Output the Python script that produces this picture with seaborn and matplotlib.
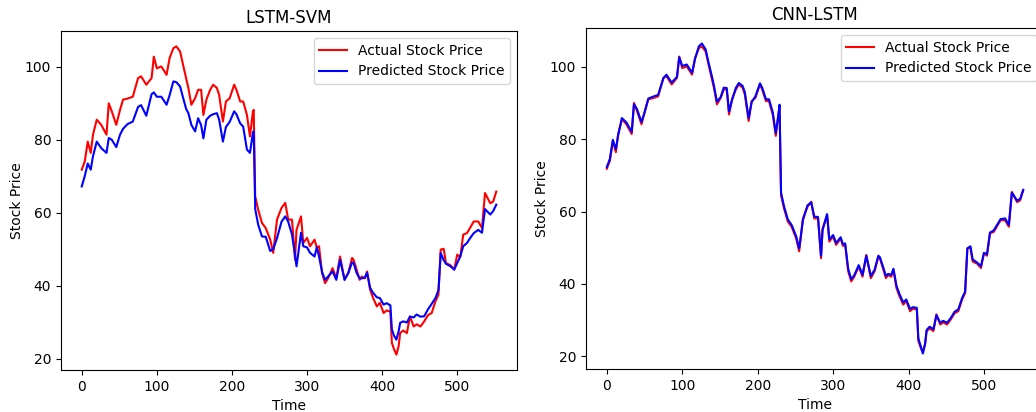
import matplotlib
matplotlib.use("Agg")
import matplotlib.pyplot as plt
import seaborn as sns

# time index and prices
time_steps = [0, 4, 8, 12, 15, 20, 26, 33, 36, 40, 46, 51, 55, 61, 68, 75, 79, 86, 93, 96,
              100, 106, 113, 117, 122, 126, 131, 135, 139, 142, 146, 151, 155, 159, 162, 166,
              171, 175, 180, 183, 188, 192, 197, 203, 206, 211, 215, 220, 224, 228, 229, 231,
              235, 240, 245, 251, 255, 260, 266, 271, 275, 280, 284, 286, 292, 295, 300, 304,
              310, 313, 316, 320, 324, 328, 334, 339, 344, 350, 355, 360, 362, 366, 370, 373,
              377, 380, 384, 388, 393, 397, 402, 406, 411, 413, 416, 419, 422, 424, 428, 433,
              437, 442, 446, 451, 456, 461, 466, 471, 475, 478, 482, 485, 491, 496, 500, 504,
              508, 513, 517, 522, 528, 533, 537, 544, 548, 552]

actual = [71.8, 74.0, 79.5, 76.4, 81.4, 85.5, 84.1, 81.4, 90.0, 87.8, 84.1, 88.2, 91.0, 91.3,
          91.8, 96.9, 97.4, 95.1, 96.9, 102.8, 99.6, 100.1, 97.8, 102.4, 105.1, 105.6, 104.2,
          100.5, 96.9, 94.2, 89.6, 91.4, 93.7, 93.7, 86.8, 91.0, 93.7, 95.1, 94.2, 92.3, 85.0,
          90.5, 91.4, 95.1, 93.7, 90.5, 90.5, 86.8, 80.9, 87.8, 88.2, 64.5, 60.8, 57.2, 55.8,
          52.6, 49.0, 58.1, 61.3, 62.7, 58.1, 58.1, 47.1, 55.3, 59.0, 51.7, 53.1, 50.8, 52.6,
          50.5, 50.8, 43.5, 40.7, 42.0, 44.8, 42.0, 48.0, 41.6, 43.5, 47.6, 47.1, 44.4, 41.6,
          42.5, 42.0, 43.9, 38.9, 36.6, 34.3, 35.3, 32.5, 33.2, 32.9, 24.3, 22.5, 21.1, 23.4,
          27.0, 27.7, 27.0, 31.6, 28.8, 29.4, 28.8, 30.2, 31.9, 32.5, 35.7, 37.5, 49.9, 50.1,
          46.2, 45.6, 44.4, 48.5, 47.8, 54.0, 54.4, 55.8, 57.6, 57.6, 55.8, 65.4, 62.6, 63.1,
          65.8]

pred_lstm_svm = [67.2, 70.0, 73.5, 71.8, 75.5, 79.5, 77.7, 76.4, 80.5, 80.0, 78.0, 81.4, 83.0,
                 84.3, 85.0, 89.0, 89.5, 86.6, 92.5, 93.0, 91.8, 91.8, 89.6, 92.2, 96.0, 95.8,
                 94.6, 91.5, 88.5, 87.3, 84.1, 82.3, 85.9, 84.0, 80.4, 85.5, 86.6, 87.0, 87.3,
                 85.5, 79.5, 83.5, 84.9, 87.8, 87.0, 84.5, 83.6, 77.3, 76.4, 82.0, 82.3, 61.0,
                 56.7, 53.5, 53.4, 49.5, 50.0, 53.0, 57.5, 59.0, 57.5, 54.0, 48.5, 45.3, 54.5,
                 50.8, 50.5, 49.0, 48.0, 50.5, 48.0, 43.8, 41.6, 42.5, 43.9, 41.6, 47.1, 41.6,
                 43.5, 46.4, 46.2, 43.5, 42.0, 42.0, 42.2, 43.5, 39.4, 38.0, 36.8, 36.6, 34.8,
                 35.2, 34.6, 28.0, 26.2, 25.2, 27.5, 29.8, 30.2, 29.9, 31.5, 31.3, 32.1, 31.5,
                 31.6, 33.5, 35.0, 36.6, 38.8, 48.9, 47.0, 46.0, 45.3, 44.4, 46.2, 48.0, 50.8,
                 51.7, 53.0, 54.4, 55.3, 54.5, 61.0, 59.5, 60.5, 62.2]

pred_cnn_lstm = [72.3, 74.5, 79.8, 77.2, 81.0, 85.8, 84.6, 82.0, 89.6, 88.3, 84.7, 88.0, 91.2,
                 91.7, 92.2, 96.8, 97.8, 95.6, 97.2, 102.6, 100.2, 100.6, 98.3, 102.2, 105.6,
                 106.4, 104.8, 101.0, 97.6, 94.8, 90.3, 91.6, 94.2, 94.1, 87.6, 90.8, 94.1, 95.5,
                 94.7, 92.9, 85.8, 90.2, 91.8, 95.4, 94.2, 91.0, 91.0, 87.4, 81.6, 87.4, 89.5,
                 65.2, 61.4, 57.8, 56.3, 53.2, 49.8, 57.6, 61.7, 62.5, 58.6, 58.5, 47.8, 54.8,
                 59.3, 52.3, 53.5, 51.3, 52.9, 51.0, 51.2, 44.2, 41.3, 42.4, 45.2, 42.5, 47.8,
                 42.2, 43.9, 47.8, 47.4, 44.9, 42.2, 42.8, 42.5, 44.2, 39.5, 37.2, 34.9, 35.7,
                 33.1, 33.6, 33.4, 25.0, 22.9, 20.8, 23.6, 27.3, 28.2, 27.5, 31.4, 29.3, 29.8,
                 29.3, 30.6, 32.3, 33.0, 36.1, 37.9, 49.8, 50.4, 46.8, 45.9, 44.9, 48.6, 48.2,
                 54.2, 54.8, 56.2, 57.9, 58.1, 56.3, 65.2, 63.0, 63.5, 66.0]

fig = plt.figure(figsize=(10.36, 4.12), dpi=100)
# right panel runs past the figure edge, like the cropped original
ax1 = fig.add_axes([61 / 1036, 42 / 412, 456 / 1036, 339 / 412])
ax2 = fig.add_axes([586 / 1036, 43 / 412, 458 / 1036, 341 / 412])

for ax, pred, title in [(ax1, pred_lstm_svm, 'LSTM-SVM'), (ax2, pred_cnn_lstm, 'CNN-LSTM')]:
    sns.lineplot(x=time_steps, y=actual, color='red', label='Actual Stock Price', ax=ax)
    sns.lineplot(x=time_steps, y=pred, color='blue', label='Predicted Stock Price', ax=ax)
    ax.set_title(title)
    ax.set_xlabel('Time')
    ax.set_ylabel('Stock Price', labelpad=1)
    ax.legend(loc='upper right')

plt.savefig('out.png', dpi=100)
